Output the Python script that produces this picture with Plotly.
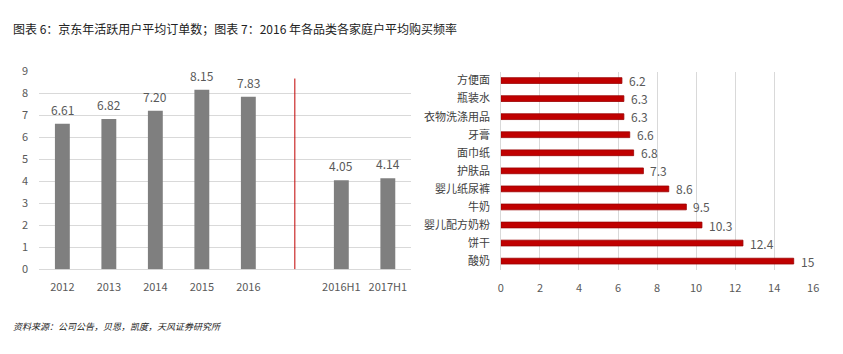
import plotly.graph_objects as go

# ---- data ----
left_categories = ["2012", "2013", "2014", "2015", "2016", " ", "2016H1", "2017H1"]
left_values = [6.61, 6.82, 7.20, 8.15, 7.83, None, 4.05, 4.14]
divider_category = " "
divider_top = 8.66

right_categories = ["方便面", "瓶装水", "衣物洗涤用品", "牙膏", "面巾纸", "护肤品",
                    "婴儿纸尿裤", "牛奶", "婴儿配方奶粉", "饼干", "酸奶"]
right_values = [6.2, 6.3, 6.3, 6.6, 6.8, 7.3, 8.6, 9.5, 10.3, 12.4, 15]

title_text = "图表 6：京东年活跃用户平均订单数；图表 7：2016 年各品类各家庭户平均购买频率"
source_text = "资料来源：公司公告，贝恩，凯度，天风证券研究所"

FONT = "Noto Sans CJK SC"
TICK_COLOR = "#595959"
GRID = "#D9D9D9"

fig = go.Figure()

fig.add_trace(go.Bar(
    x=left_categories, y=left_values,
    marker=dict(color="#7F7F7F", line=dict(width=0)),
    width=0.32,
    xaxis="x", yaxis="y", showlegend=False, hoverinfo="skip",
))

fig.add_trace(go.Bar(
    x=right_values, y=right_categories, orientation="h",
    marker=dict(color="#C00000", line=dict(width=0.8, color="#9A0000")),
    width=0.32,
    xaxis="x2", yaxis="y2", showlegend=False, hoverinfo="skip",
))

div_idx = left_categories.index(divider_category)
fig.add_shape(type="line", xref="x", yref="y",
              x0=div_idx, x1=div_idx, y0=0, y1=divider_top,
              line=dict(color="#C00000", width=1))

annotations = [
    dict(text=title_text, xref="paper", yref="paper", x=8/843, y=1-20/354,
         xanchor="left", yanchor="middle", showarrow=False,
         font=dict(family=FONT, size=12, color="#222222")),
    dict(text="<i>" + source_text + "</i>", xref="paper", yref="paper",
         x=8/843, y=1-333/354, xanchor="left", yanchor="middle", showarrow=False,
         font=dict(family=FONT, size=9, color="#222222")),
]
# category axes: annotation positions given as category index
for i, v in enumerate(left_values):
    if v is None:
        continue
    annotations.append(dict(text=f"{v:.2f}", xref="x", yref="y", x=i, y=v,
                            xanchor="center", yanchor="bottom", yshift=4,
                            showarrow=False,
                            font=dict(family=FONT, size=12, color=TICK_COLOR)))
for i, v in enumerate(right_values):
    annotations.append(dict(text=str(v), xref="x2", yref="y2", x=v, y=i,
                            xanchor="left", yanchor="middle", xshift=5,
                            showarrow=False,
                            font=dict(family=FONT, size=12, color=TICK_COLOR)))

fig.update_layout(
    width=843, height=354,
    margin=dict(l=0, r=0, t=0, b=0),
    paper_bgcolor="white", plot_bgcolor="white",
    font=dict(family=FONT, color=TICK_COLOR),
    bargap=0.68,
    xaxis=dict(domain=[0.0433, 0.4893], type="category",
               categoryorder="array", categoryarray=left_categories,
               range=[-0.5, len(left_categories) - 0.5],
               showgrid=False, showline=False, zeroline=False,
               tickfont=dict(size=11, color=TICK_COLOR),
               ticklabelstandoff=10, anchor="y"),
    yaxis=dict(domain=[0.2297, 0.8164], range=[0, 9], dtick=1,
               showgrid=True, gridcolor=GRID, gridwidth=1,
               zeroline=True, zerolinecolor=GRID, zerolinewidth=1,
               showline=False,
               tickfont=dict(size=11, color=TICK_COLOR),
               ticklabelstandoff=10, anchor="x"),
    xaxis2=dict(domain=[0.597, 0.9715], range=[0, 16], dtick=2,
                showgrid=True, gridcolor=GRID, gridwidth=1,
                zeroline=True, zerolinecolor=GRID, zerolinewidth=1,
                showline=False,
                tickfont=dict(size=11, color=TICK_COLOR),
                ticklabelstandoff=10, anchor="y2"),
    yaxis2=dict(domain=[0.2274, 0.815], type="category",
                categoryorder="array", categoryarray=right_categories,
                range=[len(right_categories) - 0.5, -0.5],
                showgrid=False, showline=False,
                tickfont=dict(size=11, color="#404040"),
                ticklabelstandoff=10, anchor="x2"),
    annotations=annotations,
)

fig.write_html("out.html")
